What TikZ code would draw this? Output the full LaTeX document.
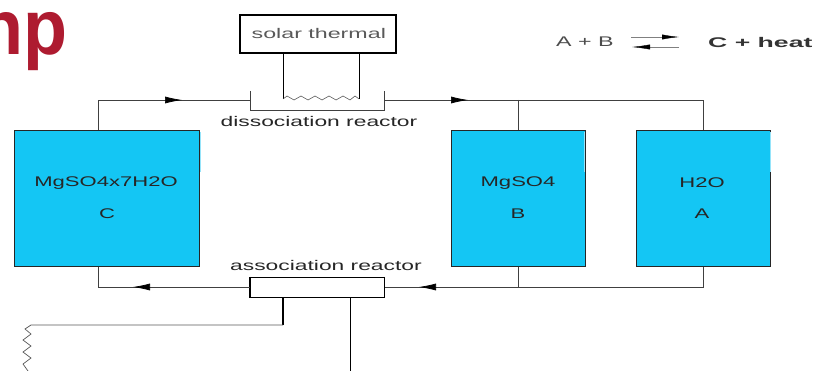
\documentclass[tikz,border=0pt]{standalone}
\usepackage{fontspec}
\setmainfont{Liberation Sans}
\newfontfamily\widefont[FakeStretch=1.63]{Liberation Sans}
\newfontfamily\tankfont[FakeStretch=1.575]{Liberation Sans}
\newfontfamily\widerfont[FakeStretch=1.66]{Liberation Sans}
\newfontfamily\widestfont[FakeStretch=1.9]{Liberation Sans}
\newfontfamily\titlefont[FakeStretch=.923]{Liberation Sans}
\usetikzlibrary{arrows.meta}
\definecolor{tank}{RGB}{20,198,244}
\definecolor{strip}{RGB}{150,228,250}
\definecolor{brand}{RGB}{174,27,48}
\tikzset{
 x=1pt,y=-1pt,
 tankbox/.style={draw=black!85,line width=.6pt,fill=tank,anchor=north west,inner sep=0pt},
 pipe/.style={draw=black!75,line width=.7pt},
 heavy/.style={draw=black,line width=.9pt},
 flowtip/.style={-{Latex[length=17pt,width=7pt,color=black]}},
 stripline/.style={draw=strip,line width=1.2pt},
 lab/.style={font=\widefont\fontsize{14pt}{14pt}\selectfont,text=black!85,inner sep=0pt},
 tlab/.style={font=\tankfont\fontsize{14pt}{14pt}\selectfont,text=black!85,inner sep=0pt}
}
\begin{document}
\begin{tikzpicture}
\useasboundingbox (0,0) rectangle (819,371);
\clip (0,0) rectangle (819,371);
\node[anchor=base west,inner sep=0pt,text=brand,font=\titlefont\fontsize{78pt}{78pt}\selectfont\bfseries] (title) at (-21,55) {np};
% tanks
\node[tankbox,minimum width=185pt,minimum height=136pt] (c) at (14,130) {};
\node[tankbox,minimum width=134pt,minimum height=136pt] (b) at (451,130) {};
\node[tankbox,minimum width=134pt,minimum height=136pt] (a) at (636,130) {};
\draw[stripline] (200.6,132) -- (200.6,172);
\draw[stripline] (584.4,132) -- (584.4,172);
\draw[stripline] (770.4,132) -- (770.4,172);
\node[tlab] (c1) at (106,183) {MgSO4x7H2O};
\node[tlab] (c2) at (107,214) {C};
\node[tlab] (b1) at (518,183) {MgSO4};
\node[tlab] (b2) at (518,214) {B};
\node[tlab] (a1) at (702,183) {H2O};
\node[tlab] (a2) at (702,214) {A};
% solar
\node[draw=black,line width=1.6pt,minimum width=156pt,minimum height=38pt,anchor=north west,inner sep=0pt,
 font=\widerfont\fontsize{14pt}{14pt}\selectfont,text=black!65] (solar) at (239,14) {\hspace*{2pt}solar thermal};
% dissociation reactor
\coordinate (dl) at (250,91); \coordinate (dr) at (384,91);
\coordinate (dbl) at (250,110); \coordinate (dbr) at (384,110);
\draw[pipe] (dl) -- (dbl) -- (dbr) -- (dr);
\node[lab] (dlab) at (319,121) {dissociation reactor};
\coordinate (hl) at (283,99); \coordinate (hr) at (359,99);
\draw[heavy,line width=.7pt] (solar.south -| hl) -- (hl);
\draw[heavy,line width=.7pt] (solar.south -| hr) -- (hr);
\draw[pipe,line width=.5pt] (hl) -- (287,96) -- (294,100) -- (301,96) -- (308,100) -- (315,96) -- (322,100) -- (329,96) -- (336,100) -- (343,96) -- (350,100) -- (355,96) -- (hr);
% top pipes
\coordinate (ctop) at (98,100); \coordinate (btop) at (518,100); \coordinate (atop) at (703,100);
\draw[pipe] (c.north -| ctop) -- (ctop) -- (250,100);
\draw[pipe,flowtip] (ctop) -- (182,100);
\draw[pipe] (384,100) -- (atop) -- (a.north -| atop);
\draw[pipe] (btop) -- (b.north -| btop);
\draw[pipe,flowtip] (384,100) -- (468,100);
% association reactor
\node[draw=black,line width=.8pt,minimum width=134pt,minimum height=20pt,anchor=north west,inner sep=0pt] (assoc) at (250,277) {};
\draw[black,line width=1.1pt] (assoc.north west) -- (assoc.south west) (assoc.north east) -- (assoc.south east);
\node[lab] (alab) at (326,265) {association reactor};
% bottom pipes
\coordinate (cbot) at (98,287); \coordinate (bbot) at (518,287); \coordinate (abot) at (703,287);
\draw[pipe] (c.south -| cbot) -- (cbot) -- (assoc.west |- cbot);
\draw[pipe,flowtip] (assoc.west |- cbot) -- (133,287);
\draw[pipe] (a.south -| abot) -- (abot) -- (assoc.east |- abot);
\draw[pipe] (b.south -| bbot) -- (bbot);
\draw[pipe,flowtip] (bbot) -- (419,287);
% lower lines
\coordinate (q1) at (283,325); \coordinate (q2) at (31,325); \coordinate (o) at (350,371);
\draw[heavy,line width=1.1pt] (assoc.south -| q1) -- (q1);
\draw[pipe,draw=black!65] (q1) -- (q2) -- (25,329) -- (31,334) -- (23,340) -- (31,346) -- (23,352) -- (31,358) -- (23,364) -- (28,371);
\draw[heavy] (assoc.south -| o) -- (o);
% equation
\node[font=\widerfont\fontsize{14pt}{14pt}\selectfont,text=black!70,inner sep=0pt,anchor=west] (lhs) at (556,42) {A + B};
\node[font=\widestfont\fontsize{14pt}{14pt}\selectfont\bfseries,text=black!80,inner sep=0pt,anchor=west] (rhs) at (708,42) {C + heat};
\coordinate (e1) at (631,37); \coordinate (e2) at (679,37); \coordinate (e3) at (679,47); \coordinate (e4) at (632,47);
\draw[black!50,line width=.4pt,-{Latex[length=17pt,width=5pt,color=black]}] (e1) -- (e2);
\draw[black!50,line width=.4pt,-{Latex[length=18pt,width=5pt,color=black]}] (e3) -- (e4);
\end{tikzpicture}
\end{document}
